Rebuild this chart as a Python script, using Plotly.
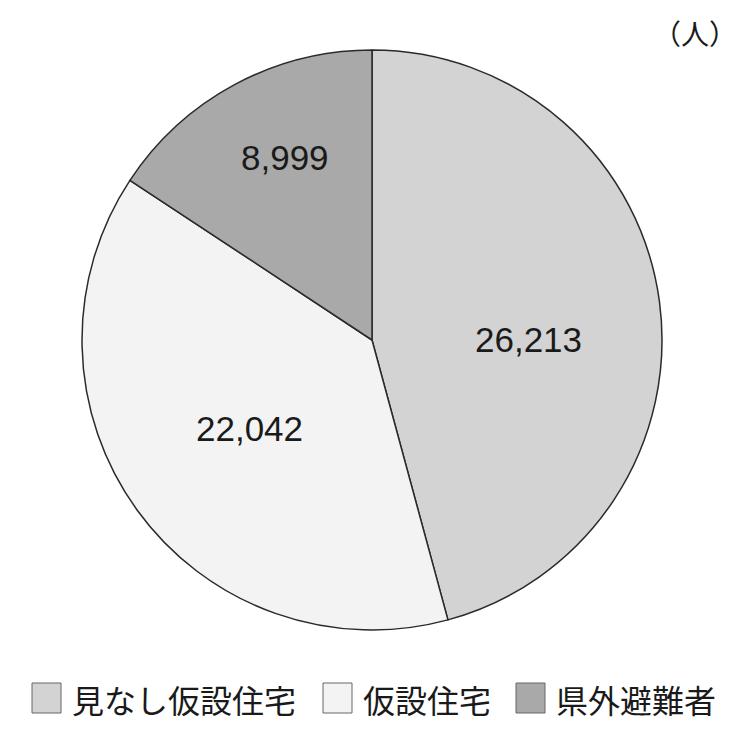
import math
import plotly.graph_objects as go

categories = ["見なし仮設住宅", "仮設住宅", "県外避難者"]
values = [26213, 22042, 8999]
colors = ["#d3d3d3", "#f3f3f3", "#a9a9a9"]
unit_label = "（人）"

OFF = 8                      # page body margin
W, H = 740 - OFF, 729 - 2 * OFF
cx, cy, R = 372 - OFF, 340 - OFF, 290  # pie center / radius in pixels


def px(x):
    return (x - OFF) / W


def py(y):
    return 1 - (y - OFF) / H


fig = go.Figure()
fig.add_trace(go.Pie(
    labels=categories,
    values=values,
    sort=False,
    direction="clockwise",
    rotation=0,
    marker=dict(colors=colors, line=dict(color="#2a2a2a", width=1.5)),
    textinfo="none",
    hoverinfo="label+value",
    showlegend=False,
    domain=dict(x=[(cx - R) / W, (cx + R) / W], y=[1 - (cy + R) / H, 1 - (cy - R) / H]),
))

# value labels: position within each slice (angular fraction, radial fraction)
ang_frac = [0.546, 0.50, 0.55]
rad_frac = [0.538, 0.52, 0.696]
total = sum(values)
cum = 0
annotations = []
for v, af, rf in zip(values, ang_frac, rad_frac):
    a = (cum + af * v) / total * 2 * math.pi
    cum += v
    x = cx + rf * R * math.sin(a)
    y = cy - rf * R * math.cos(a)
    annotations.append(dict(
        x=x / W, y=1 - y / H, xref="paper", yref="paper",
        text=f"{v:,}", showarrow=False,
        font=dict(family="Liberation Sans, Arial, sans-serif", size=35, color="#1a1a1a"),
        xanchor="center", yanchor="middle",
    ))

annotations.append(dict(
    x=px(739), y=py(33), xref="paper", yref="paper", text=unit_label,
    showarrow=False, xanchor="right", yanchor="middle",
    font=dict(family="Noto Sans CJK JP", size=28, color="#1a1a1a"),
))

# manual legend
shapes = []
leg_x = [32, 323, 516]
leg_y0, leg_y1 = 683, 713
for name, col, x0 in zip(categories, colors, leg_x):
    shapes.append(dict(
        type="rect", xref="paper", yref="paper",
        x0=px(x0), x1=px(x0 + 29), y0=py(leg_y1), y1=py(leg_y0),
        fillcolor=col, line=dict(color="#666666", width=1),
    ))
    annotations.append(dict(
        x=px(x0 + 38), y=py(699), xref="paper", yref="paper",
        text=name, showarrow=False, xanchor="left", yanchor="middle",
        font=dict(family="Noto Sans CJK JP", size=32, color="#1a1a1a"),
    ))

fig.update_layout(
    width=W, height=H,
    margin=dict(l=0, r=0, t=0, b=0),
    paper_bgcolor="white", plot_bgcolor="white",
    annotations=annotations, shapes=shapes,
)

fig.write_html("out.html")
